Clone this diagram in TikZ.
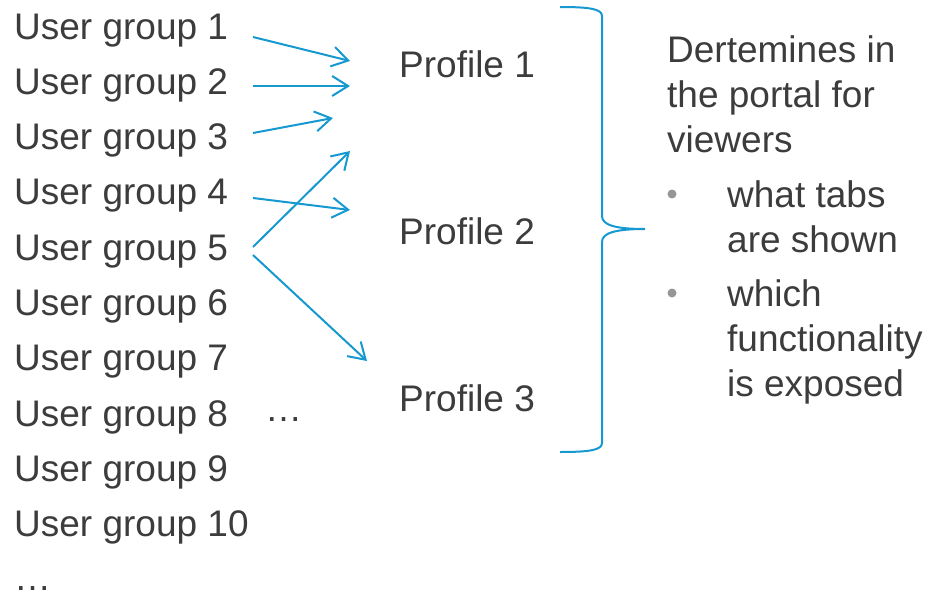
\documentclass[tikz,border=0pt]{standalone}
\usepackage{fontspec}
\setmainfont{Liberation Sans}
\usetikzlibrary{arrows.meta,positioning}
\definecolor{textgray}{RGB}{60,60,60}
\definecolor{bulletgray}{RGB}{150,150,150}
\definecolor{linkblue}{RGB}{22,152,208}

\begin{document}
\begin{tikzpicture}[x=1pt,y=-1pt,>={Straight Barb[length=16pt,width=20pt]}]
    \tikzset{txt/.style={anchor=base west,inner sep=0pt,text=textgray,font=\fontsize{37}{44}\selectfont}}
    \tikzset{link/.style={->,draw=linkblue,line width=2pt}}
    \tikzset{bracket/.style={draw=linkblue,line width=2pt}}
    \tikzset{dotitem/.style={circle,fill=bulletgray,inner sep=0pt,minimum size=9pt}}
    \useasboundingbox (0,0) rectangle (926,597);

    % User groups
    \foreach \i in {1,...,10} {
        \node[txt] (ug\i) at (14,{39+55.3*(\i-1)}) {User group \i};
    }
    \node[txt] (ugmore) at (14,590) {\dots};
    \node[txt] (ugdots) at (265,421) {\dots};

    % Profiles
    \node[txt] (p1) at (399,77) {Profile 1};
    \node[txt] (p2) at (399,244) {Profile 2};
    \node[txt] (p3) at (399,411) {Profile 3};

    % Arrow ends
    \coordinate (s1) at (253,37);  \coordinate (e1) at (350,61);
    \coordinate (s2) at (253,86);  \coordinate (e2) at (350,86);
    \coordinate (s3) at (253,133); \coordinate (e3) at (333,118);
    \coordinate (s4) at (253,198); \coordinate (e4) at (350,210);
    \coordinate (s5) at (253,247); \coordinate (e5) at (350,151);
    \coordinate (s6) at (253,255); \coordinate (e6) at (367,361);
    \foreach \k in {1,...,6} {
        \draw[link] (s\k) -- (e\k);
    }

    % Brace
    \coordinate (btop) at (560,7);
    \coordinate (btip) at (645,229);
    \coordinate (bbot) at (560,452);
    \draw[bracket] (btop) .. controls (590,7) and (602,9) .. (602,16)
        -- (602,216) .. controls (602,225) and (615,229) .. (btip)
        .. controls (615,229) and (602,233) .. (602,242)
        -- (602,443) .. controls (602,450) and (590,452) .. (bbot);

    % Description
    \node[txt] (d1) at (667,62) {Dertemines in};
    \node[txt] (d2) at (667,107) {the portal for};
    \node[txt] (d3) at (667,152) {viewers};
    \node[dotitem] (b1) at (672,194) {};
    \node[txt] (i1a) at (727,207) {what tabs};
    \node[txt] (i1b) at (727,252) {are shown};
    \node[dotitem] (b2) at (672,293) {};
    \node[txt] (i2a) at (727,306) {which};
    \node[txt] (i2b) at (727,351) {functionality};
    \node[txt] (i2c) at (727,396) {is exposed};
\end{tikzpicture}
\end{document}
